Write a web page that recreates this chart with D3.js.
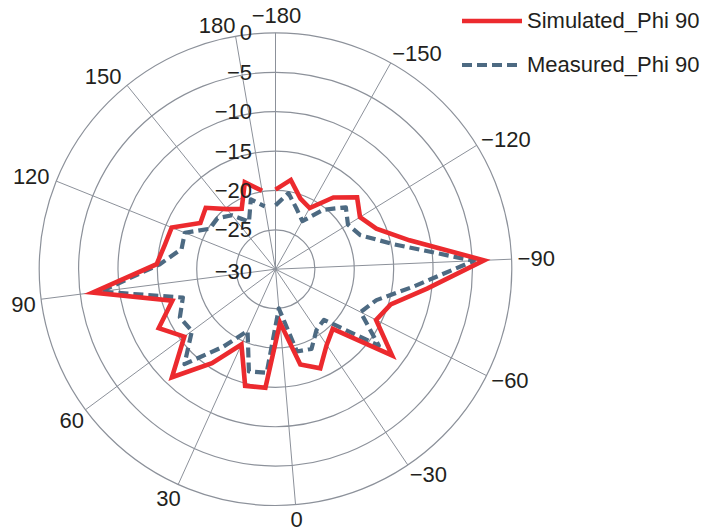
<!DOCTYPE html>
<html>
<head>
<meta charset="utf-8">
<script src="https://cdn.jsdelivr.net/npm/d3@7"></script>
<style>
  html, body { margin: 0; padding: 0; background: #fff; }
  svg { display: block; font-family: "Liberation Sans", Arial, Helvetica, sans-serif; }
</style>
</head>
<body>
<svg id="chart" width="704" height="529"></svg>
<script>
// ---- data ----
const angles = [-180,-170,-160,-150,-140,-130,-120,-110,-100,-90,-80,-70,-60,-50,-40,-30,-20,-10,0,
                10,20,30,40,50,60,70,80,90,100,110,120,130,140,150,160,170,180];
const simulated = [-19.9,-18.5,-20.5,-21.1,-18.3,-16.2,-17.4,-16.2,-12.6,-3.5,-10.6,-14.7,-15.7,-11.6,-19.5,-18.4,-16.2,-17.5,-23.2,
                   -14.9,-14.7,-19.5,-15.6,-11.0,-15.6,-13.4,-16.3,-6.6,-14.9,-15.6,-15.8,-18.8,-18.2,-20.2,-21.2,-18.3,-19.9];
const measured = [-21.9,-20.2,-21.9,-23.0,-20.3,-18.1,-19.2,-18.4,-14.8,-4.8,-12.4,-16.6,-17.9,-13.7,-21.1,-20.7,-18.9,-19.2,-25.0,
                  -16.8,-16.6,-21.4,-18.1,-13.3,-16.8,-16.4,-17.7,-7.6,-15.3,-17.8,-17.6,-20.2,-20.2,-21.2,-23.1,-20.6,-21.9];
const angleTicks = [-180,-150,-120,-90,-60,-30,0,30,60,90,120,150,180];
const radialTicks = [0,-5,-10,-15,-20,-25,-30];
const seriesNames = ["Simulated_Phi 90", "Measured_Phi 90"];

// ---- layout ----
const cx = 275.5, cy = 269.2, R = 236.3;
const svg = d3.select("#chart");
const g = svg.append("g").attr("transform", `translate(${cx},${cy})`);

const aScale = d3.scaleLinear().domain([-180, 190]).range([0, 2 * Math.PI]);
const rScale = d3.scaleLinear().domain([-30, 0]).range([0, R]);

const gridColor = "#8c919a";
const textColor = "#231f20";
const fmt = v => (v < 0 ? "\u2212" + Math.abs(v) : String(v));

// rings
g.selectAll("circle.ring").data(radialTicks.filter(v => v > -30))
  .enter().append("circle")
  .attr("r", d => rScale(d))
  .attr("fill", "none").attr("stroke", gridColor).attr("stroke-width", 1.2);

// spokes
g.selectAll("line.spoke").data(angleTicks)
  .enter().append("line")
  .attr("x1", 0).attr("y1", 0)
  .attr("x2", d => R * Math.sin(aScale(d)))
  .attr("y2", d => -R * Math.cos(aScale(d)))
  .attr("stroke", gridColor).attr("stroke-width", 1);

// series lines
const pts = vals => angles.map((a, i) => ({a, v: vals[i]}));
const line = d3.lineRadial().angle(d => aScale(d.a)).radius(d => rScale(d.v));

g.append("path").datum(pts(measured))
  .attr("d", line).attr("fill", "none")
  .attr("stroke", "#4d6a82").attr("stroke-width", 4.2)
  .attr("stroke-dasharray", "10,5").attr("stroke-linejoin", "round");

g.append("path").datum(pts(simulated))
  .attr("d", line).attr("fill", "none")
  .attr("stroke", "#ec2a2e").attr("stroke-width", 4.6)
  .attr("stroke-linejoin", "miter");

// angular labels
g.selectAll("text.alab").data(angleTicks)
  .enter().append("text")
  .each(function(d) {
    const t = aScale(d), s = Math.sin(t), c = Math.cos(t);
    const ex = R * s, ey = -R * c;
    let anchor, x, y;
    if (Math.abs(s) < 0.1) {
      anchor = "middle"; x = ex + 1; y = ey - c * 16 - 1.5;
    } else if (s > 0) {
      anchor = "start"; x = ex + 6 * s * s; y = ey - c * 11;
    } else {
      anchor = "end";
      x = ex + (Math.abs(s) < 0.2 ? 0 : -6 * s * s - c * 4);
      y = ey - c * 11 + (c < 0 ? 4 : 0);
    }
    d3.select(this).attr("x", x).attr("y", y)
      .attr("text-anchor", anchor).attr("dominant-baseline", "central");
  })
  .attr("font-size", 22).attr("fill", textColor)
  .text(d => fmt(d));

// radial labels
g.selectAll("text.rlab").data(radialTicks)
  .enter().append("text")
  .attr("x", -23.5)
  .attr("y", d => -rScale(d) + (d === -30 ? 2 : 0))
  .attr("text-anchor", "end")
  .attr("dominant-baseline", "central")
  .attr("font-size", 22).attr("fill", textColor)
  .text(d => fmt(d));

// legend
const leg = svg.append("g");
const legItems = [
  {name: seriesNames[0], color: "#ec2a2e", dash: null, y: 21},
  {name: seriesNames[1], color: "#4d6a82", dash: "10,5", y: 65}
];
legItems.forEach(it => {
  leg.append("line").attr("x1", 462).attr("x2", 522).attr("y1", it.y).attr("y2", it.y)
    .attr("stroke", it.color).attr("stroke-width", it.dash ? 4.2 : 4.6)
    .attr("stroke-dasharray", it.dash);
  leg.append("text").attr("x", 527).attr("y", it.y + 6.5)
    .attr("font-size", 22).attr("fill", textColor).text(it.name);
});
</script>
</body>
</html>
